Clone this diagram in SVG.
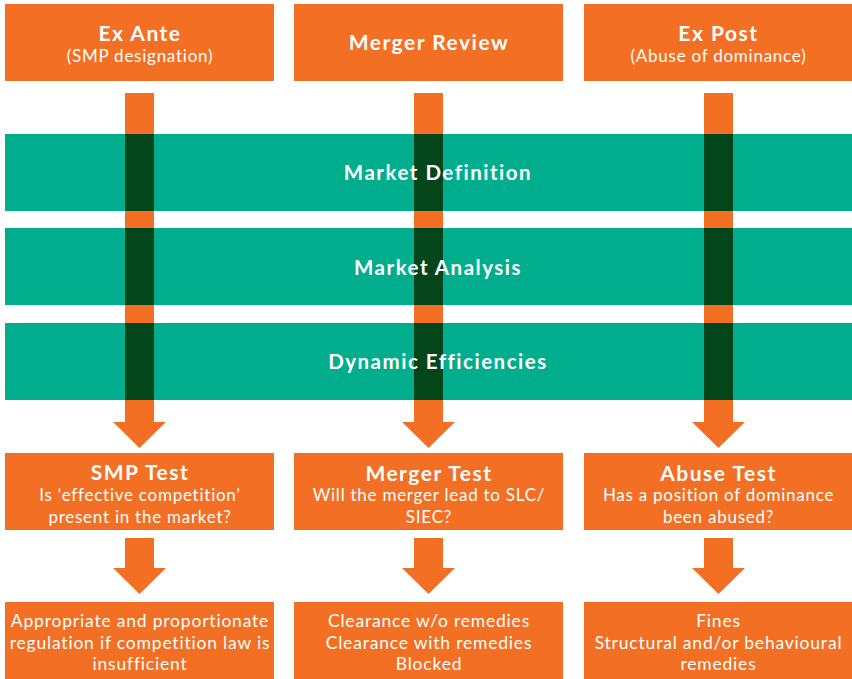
<svg xmlns="http://www.w3.org/2000/svg" width="852" height="679" viewBox="0 0 852 679">
<style>
.box{fill:#F36F23}
.band{fill:#00AE8E}
.dark{fill:#05451A}
.arr{fill:#F36F23}
text{font-family:Lato,"Open Sans","Liberation Sans",sans-serif;fill:#FFFFFF;text-anchor:middle}
.t{font-size:21px;font-weight:700;letter-spacing:1.5px}
.s{font-size:17px;letter-spacing:0.75px}
.b{font-size:17.5px;letter-spacing:0.8px}
.bt{font-size:20.5px;font-weight:700;letter-spacing:1.5px}
</style>
<rect width="852" height="679" fill="#FFFFFF"/>
<g id="connectors">
<path class="arr" d="M125,93 H154 V422 H166 L139.5,448 L113,422 H125 Z"/>
<path class="arr" d="M414,93 H443 V422 H455 L428.5,448 L402,422 H414 Z"/>
<path class="arr" d="M704,93 H733 V422 H745 L718.5,448 L692,422 H704 Z"/>
<path class="arr" d="M125,538 H154 V568 H166 L139.5,594 L113,568 H125 Z"/>
<path class="arr" d="M414,538 H443 V568 H455 L428.5,594 L402,568 H414 Z"/>
<path class="arr" d="M704,538 H733 V568 H745 L718.5,594 L692,568 H704 Z"/>
</g>
<g id="band-market-definition">
<rect class="band" x="5" y="134" width="847" height="77"/>
<rect class="dark" x="125" y="134" width="29" height="77"/>
<rect class="dark" x="414" y="134" width="29" height="77"/>
<rect class="dark" x="704" y="134" width="29" height="77"/>
<text class="bt" x="438" y="180">Market Definition</text>
</g>
<g id="band-market-analysis">
<rect class="band" x="5" y="228" width="847" height="77"/>
<rect class="dark" x="125" y="228" width="29" height="77"/>
<rect class="dark" x="414" y="228" width="29" height="77"/>
<rect class="dark" x="704" y="228" width="29" height="77"/>
<text class="bt" x="438" y="275">Market Analysis</text>
</g>
<g id="band-dynamic-efficiencies">
<rect class="band" x="5" y="323" width="847" height="77"/>
<rect class="dark" x="125" y="323" width="29" height="77"/>
<rect class="dark" x="414" y="323" width="29" height="77"/>
<rect class="dark" x="704" y="323" width="29" height="77"/>
<text class="bt" x="438" y="369">Dynamic Efficiencies</text>
</g>
<g id="ex-ante">
<rect class="box" x="5" y="4" width="269" height="77"/>
<text class="t" x="140" y="41">Ex Ante</text>
<text class="s" x="140" y="62">(SMP designation)</text>
</g>
<g id="merger-review">
<rect class="box" x="294" y="4" width="269" height="77"/>
<text class="t" x="429" y="50">Merger Review</text>
</g>
<g id="ex-post">
<rect class="box" x="584" y="4" width="268" height="77"/>
<text class="t" x="718.5" y="41">Ex Post</text>
<text class="s" x="718.5" y="62">(Abuse of dominance)</text>
</g>
<g id="smp-test">
<rect class="box" x="5" y="453" width="269" height="77"/>
<text class="t" x="140" y="480">SMP Test</text>
<text class="s" x="140" y="501">Is ‘effective competition’</text>
<text class="s" x="140" y="523">present in the market?</text>
</g>
<g id="merger-test">
<rect class="box" x="294" y="453" width="269" height="77"/>
<text class="t" x="429" y="481">Merger Test</text>
<text class="s" x="429" y="501">Will the merger lead to SLC/</text>
<text class="s" x="429" y="523">SIEC?</text>
</g>
<g id="abuse-test">
<rect class="box" x="584" y="453" width="268" height="77"/>
<text class="t" x="718.5" y="481">Abuse Test</text>
<text class="s" x="718.5" y="501">Has a position of dominance</text>
<text class="s" x="718.5" y="523">been abused?</text>
</g>
<g id="smp-outcome">
<rect class="box" x="5" y="602" width="269" height="77"/>
<text class="b" x="140" y="627">Appropriate and proportionate</text>
<text class="b" x="140" y="649">regulation if competition law is</text>
<text class="b" x="140" y="670">insufficient</text>
</g>
<g id="merger-outcome">
<rect class="box" x="294" y="602" width="269" height="77"/>
<text class="b" x="429" y="627">Clearance w/o remedies</text>
<text class="b" x="429" y="649">Clearance with remedies</text>
<text class="b" x="429" y="670">Blocked</text>
</g>
<g id="abuse-outcome">
<rect class="box" x="584" y="602" width="268" height="77"/>
<text class="b" x="718.5" y="627">Fines</text>
<text class="b" x="718.5" y="649">Structural and/or behavioural</text>
<text class="b" x="718.5" y="670">remedies</text>
</g>
</svg>
